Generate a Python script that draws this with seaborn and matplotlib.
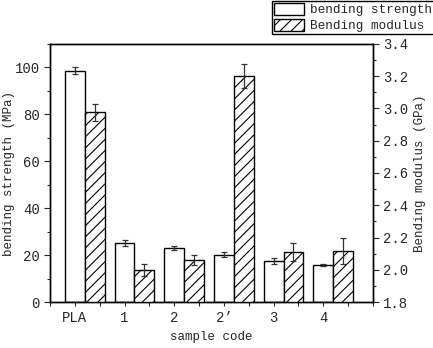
import numpy as np
import pandas as pd
import matplotlib
matplotlib.use("Agg")
import matplotlib.pyplot as plt
from matplotlib.ticker import MultipleLocator, FormatStrFormatter
import seaborn as sns

# Sample codes and measured flexural properties (mean and standard deviation)
samples = ["PLA", "1", "2", "2\u2019", "3", "4"]
strength_mpa = [98.5, 25.1, 23.0, 20.3, 17.6, 15.9]
strength_sd = [1.5, 1.3, 0.9, 1.1, 1.3, 0.3]
modulus_gpa = [2.975, 2.00, 2.06, 3.20, 2.11, 2.12]
modulus_sd = [0.055, 0.035, 0.03, 0.075, 0.055, 0.08]

sns.set_theme(style="ticks")
plt.rcParams["font.family"] = ["Liberation Mono", "DejaVu Sans Mono"]
plt.rcParams["hatch.linewidth"] = 0.8
plt.rcParams["hatch.color"] = "black"

pos = np.arange(len(samples))
bar_w = 0.4
df_s = pd.DataFrame({"pos": pos, "value": strength_mpa})
df_m = pd.DataFrame({"pos": pos + bar_w, "value": modulus_gpa})

fig = plt.figure(figsize=(4.33, 3.48), dpi=100)
ax1 = fig.add_axes([50 / 433, 1 - 302.3 / 348, 323 / 433, (302.3 - 43.7) / 348])
ax2 = ax1.twinx()

sns.barplot(data=df_s, x="pos", y="value", native_scale=True, width=bar_w,
            color="white", edgecolor="black", linewidth=1.0, ax=ax1,
            label="bending strength")
sns.barplot(data=df_m, x="pos", y="value", native_scale=True, width=bar_w,
            color="white", edgecolor="black", linewidth=1.0, hatch="///", ax=ax2,
            label="Bending modulus")

ax1.errorbar(pos, strength_mpa, yerr=strength_sd, fmt="none", ecolor="#333333",
             elinewidth=0.9, capsize=2.5, capthick=0.9)
ax2.errorbar(pos + bar_w, modulus_gpa, yerr=modulus_sd, fmt="none", ecolor="#333333",
             elinewidth=0.9, capsize=2.5, capthick=0.9)

for ax in (ax1, ax2):
    ax.set_xlim(-0.5, 6.0)
    ax.tick_params(labelsize=10)
    for sp in ax.spines.values():
        sp.set_visible(True)
        sp.set_linewidth(1.0)
        sp.set_color("black")

ax1.set_ylim(0, 110)
ax1.set_yticks([0, 20, 40, 60, 80, 100])
ax1.yaxis.set_minor_locator(MultipleLocator(10))
ax2.set_ylim(1.8, 3.4)
ax2.yaxis.set_major_locator(MultipleLocator(0.2))
ax2.yaxis.set_minor_locator(MultipleLocator(0.1))
ax2.yaxis.set_major_formatter(FormatStrFormatter("%.1f"))

ax1.set_xticks(pos)
ax1.set_xticklabels(samples)
ax1.xaxis.set_minor_locator(MultipleLocator(0.5))
# bottom ticks point outward, top ticks point into the plot
ax1.tick_params(axis="x", which="both", direction="out", length=3, width=0.8,
                bottom=True, top=False)
ax2.tick_params(axis="x", which="both", direction="in", length=3, width=0.8,
                bottom=False, top=True, labelbottom=False, labeltop=False)
ax1.tick_params(axis="y", which="major", direction="out", length=4, width=0.8)
ax1.tick_params(axis="y", which="minor", direction="out", length=2.5, width=0.8)
ax2.tick_params(axis="y", which="major", direction="out", length=4, width=0.8)
ax2.tick_params(axis="y", which="minor", direction="out", length=2.5, width=0.8)

ax1.set_xlabel("sample code", fontsize=9)
ax1.set_ylabel("bending strength (MPa)", fontsize=9)
ax1.yaxis.set_label_coords(-0.108, 0.5)
ax2.set_ylabel("Bending modulus (GPa)", fontsize=9, labelpad=4)

h1, l1 = ax1.get_legend_handles_labels()
h2, l2 = ax2.get_legend_handles_labels()
for a in (ax1, ax2):
    if a.get_legend() is not None:
        a.get_legend().remove()
leg = fig.legend(h1[:1] + h2[:1], [l1[0], l2[0]], loc="upper right",
                 bbox_to_anchor=(1.003, 0.997), fontsize=9.1, frameon=True,
                 fancybox=False, edgecolor="black", framealpha=1, borderpad=0.15,
                 labelspacing=0.2, handlelength=2.4, handleheight=1.1,
                 handletextpad=0.5, borderaxespad=0)
leg.get_frame().set_linewidth(1.0)

fig.savefig("out.png", dpi=100)
